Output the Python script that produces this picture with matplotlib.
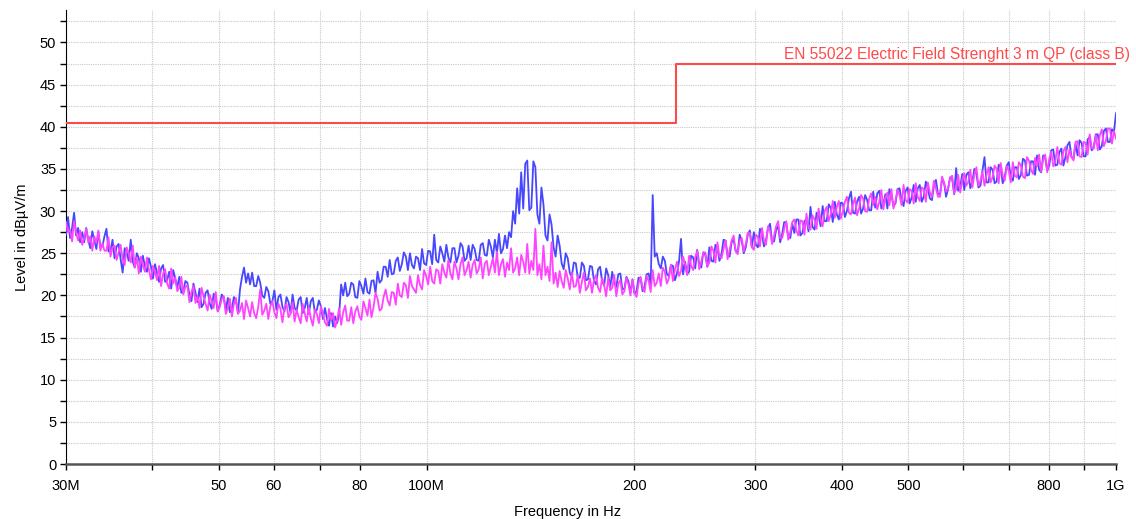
import numpy as np
import matplotlib
matplotlib.use("Agg")
import matplotlib.pyplot as plt
from matplotlib.ticker import FixedLocator, FixedFormatter, NullFormatter

# ---- data ----
f_start, f_stop = 30e6, 1e9  # sweep range, Hz

level_blue = [
    27.2, 29.3, 26.8, 28.0, 29.8, 27.1, 28.0, 26.3, 27.5, 26.3, 28.0, 26.6, 25.6, 27.6, 26.6, 25.5, 27.5, 25.7, 25.8, 27.0,
    27.9, 25.2, 25.3, 26.6, 24.4, 25.8, 26.1, 24.3, 22.7, 25.6, 25.1, 24.1, 26.6, 24.0, 23.3, 25.0, 24.4, 22.8, 24.7, 23.4,
    22.8, 24.4, 23.4, 22.0, 23.7, 22.6, 21.6, 23.2, 23.6, 21.6, 21.8, 22.8, 20.8, 23.0, 22.0, 20.9, 22.2, 20.3, 20.5, 21.7,
    21.5, 20.1, 19.3, 21.4, 20.3, 19.2, 20.8, 18.6, 19.0, 20.3, 20.6, 19.1, 18.4, 20.2, 19.7, 18.1, 18.9, 20.1, 19.7, 18.2,
    19.7, 18.0, 18.5, 19.8, 19.3, 17.9, 20.7, 22.2, 23.3, 21.5, 22.6, 21.3, 22.7, 21.1, 21.1, 22.3, 21.5, 20.0, 19.7, 21.0,
    20.5, 19.0, 19.3, 20.6, 18.3, 19.8, 20.1, 18.6, 18.1, 19.8, 19.2, 17.9, 20.1, 18.5, 18.2, 19.5, 19.8, 17.9, 18.5, 19.7,
    17.8, 19.3, 19.7, 18.0, 18.3, 19.4, 18.7, 17.2, 18.5, 17.2, 16.4, 17.9, 16.3, 17.5, 16.7, 17.7, 21.3, 20.0, 21.5, 19.9,
    20.2, 21.5, 21.3, 19.8, 19.7, 21.7, 21.1, 20.2, 22.0, 20.4, 20.2, 21.7, 21.8, 20.3, 22.8, 21.5, 21.8, 23.4, 23.4, 22.2,
    24.2, 22.5, 22.6, 24.1, 24.5, 22.9, 23.7, 25.1, 24.6, 23.0, 25.0, 23.6, 23.2, 24.6, 24.4, 23.0, 25.5, 23.8, 23.6, 25.3,
    25.2, 23.7, 27.2, 24.2, 23.9, 25.8, 25.0, 24.0, 26.0, 24.5, 23.9, 25.6, 25.6, 23.9, 24.7, 26.2, 25.8, 24.1, 24.4, 25.9,
    24.2, 26.0, 25.5, 24.2, 24.1, 26.0, 26.2, 24.8, 24.7, 26.6, 25.8, 24.5, 26.6, 25.0, 27.3, 25.0, 25.5, 27.1, 25.6, 27.5,
    26.9, 30.0, 28.5, 32.7, 29.7, 34.6, 30.3, 35.6, 36.0, 30.1, 30.4, 35.9, 35.2, 29.6, 28.5, 32.8, 30.8, 27.1, 26.5, 29.6,
    28.4, 25.7, 24.6, 27.1, 25.9, 23.8, 23.1, 25.0, 24.4, 22.7, 22.2, 23.9, 23.8, 22.0, 22.1, 23.9, 23.5, 21.8, 21.9, 23.5,
    23.4, 21.7, 21.3, 23.1, 23.4, 21.6, 21.2, 23.2, 22.4, 21.0, 22.8, 21.4, 21.0, 22.5, 22.6, 20.7, 20.8, 22.2, 21.7, 20.3,
    21.9, 20.2, 20.5, 22.1, 22.0, 20.5, 21.1, 22.5, 22.6, 21.3, 31.9, 24.6, 25.0, 23.7, 23.2, 24.6, 24.1, 22.5, 22.3, 23.6,
    23.5, 21.8, 22.6, 24.0, 26.7, 22.5, 24.0, 22.5, 22.8, 24.7, 24.5, 23.2, 25.4, 23.7, 23.3, 25.1, 24.8, 23.4, 25.7, 24.1,
    24.0, 26.0, 25.6, 24.1, 24.9, 26.6, 26.5, 24.8, 24.6, 26.3, 26.6, 25.3, 25.1, 27.2, 26.5, 25.0, 25.7, 27.2, 27.7, 25.7,
    27.5, 26.0, 25.7, 27.9, 27.3, 25.8, 26.5, 28.0, 28.5, 26.4, 26.4, 27.8, 28.2, 26.3, 27.3, 28.7, 28.6, 26.9, 26.8, 28.5,
    27.4, 29.0, 29.0, 27.1, 27.4, 28.8, 29.1, 27.6, 30.5, 28.1, 27.8, 29.8, 29.5, 28.2, 30.6, 28.8, 28.8, 30.8, 30.4, 28.7,
    31.1, 29.6, 29.0, 31.0, 30.9, 29.3, 30.0, 31.5, 32.3, 29.8, 29.7, 31.1, 31.7, 29.7, 30.3, 31.9, 31.3, 30.1, 30.1, 32.3,
    30.4, 32.1, 32.4, 30.3, 30.8, 32.0, 30.3, 32.6, 31.9, 30.6, 30.9, 32.6, 32.7, 31.3, 30.6, 32.4, 32.8, 30.9, 31.6, 33.1,
    31.1, 32.7, 33.1, 31.1, 31.7, 33.5, 32.7, 31.5, 31.3, 33.0, 33.7, 32.0, 32.0, 33.7, 33.4, 31.7, 32.6, 34.0, 33.9, 32.0,
    35.1, 32.4, 32.9, 34.4, 32.5, 34.3, 34.6, 32.7, 33.5, 35.0, 34.4, 32.8, 33.0, 34.8, 36.4, 33.4, 33.4, 35.2, 34.9, 33.3,
    33.5, 35.5, 35.2, 33.3, 34.1, 35.4, 35.8, 34.0, 33.6, 35.2, 35.2, 33.8, 34.3, 36.2, 36.0, 34.2, 34.3, 35.9, 35.9, 34.3,
    36.6, 34.9, 34.6, 36.6, 36.3, 34.8, 35.4, 37.2, 37.3, 35.4, 35.5, 37.0, 37.4, 35.4, 36.4, 37.8, 38.2, 36.4, 36.2, 38.0,
    36.6, 38.4, 38.1, 36.5, 36.5, 38.5, 38.8, 37.2, 37.6, 39.1, 39.1, 37.3, 37.7, 39.5, 39.8, 38.2, 38.2, 39.7, 39.4, 41.6,
]

level_magenta = [
    28.7, 27.5, 27.8, 26.4, 28.8, 27.5, 26.5, 27.7, 26.0, 26.8, 27.9, 26.3, 27.0, 25.3, 27.0, 26.2, 27.7, 25.3, 26.2, 25.3,
    25.3, 26.9, 24.6, 25.7, 25.9, 24.2, 25.1, 26.0, 24.3, 23.6, 25.7, 25.0, 23.9, 25.9, 23.3, 24.5, 22.6, 24.6, 23.6, 22.8,
    24.5, 23.0, 21.9, 23.5, 22.8, 21.8, 23.5, 21.1, 22.6, 23.1, 21.4, 20.8, 23.2, 21.4, 22.1, 20.5, 20.9, 22.2, 20.1, 21.0,
    21.2, 19.2, 20.4, 21.1, 19.1, 19.9, 18.5, 20.9, 19.9, 19.0, 18.2, 20.1, 19.3, 18.5, 20.4, 18.1, 18.6, 19.6, 19.9, 17.8,
    18.5, 19.6, 17.5, 19.0, 19.7, 17.8, 18.2, 19.1, 17.2, 19.4, 18.5, 17.5, 19.2, 17.9, 17.3, 18.6, 20.7, 17.7, 18.2, 19.0,
    17.2, 18.7, 19.3, 18.0, 17.3, 19.0, 18.4, 16.8, 18.6, 19.0, 17.4, 17.8, 19.2, 16.9, 18.3, 17.4, 16.7, 19.0, 17.9, 16.9,
    18.6, 17.3, 16.4, 18.3, 17.8, 16.7, 18.7, 17.8, 16.8, 16.4, 18.4, 17.1, 17.9, 16.2, 17.0, 18.5, 16.5, 18.0, 18.8, 17.0,
    17.0, 18.6, 16.7, 18.1, 18.7, 17.5, 17.1, 19.3, 18.5, 17.6, 19.5, 17.4, 18.6, 20.3, 19.6, 18.2, 18.4, 19.8, 20.7, 19.4,
    18.8, 20.4, 20.3, 18.9, 21.4, 20.0, 19.8, 21.5, 21.2, 19.7, 22.3, 21.1, 20.7, 20.3, 22.4, 21.2, 20.7, 23.0, 22.3, 21.3,
    23.4, 21.7, 21.4, 23.1, 22.9, 21.4, 23.7, 22.7, 22.1, 24.2, 22.6, 21.9, 24.0, 23.2, 21.9, 23.7, 24.5, 22.4, 23.0, 24.0,
    22.1, 23.6, 24.2, 22.6, 23.1, 24.5, 22.0, 23.8, 24.1, 22.4, 23.4, 24.4, 22.7, 25.2, 22.4, 23.7, 24.3, 22.2, 23.9, 23.0,
    25.6, 22.7, 23.2, 24.5, 22.4, 24.8, 24.0, 22.7, 26.1, 22.6, 24.1, 23.0, 27.9, 22.4, 23.7, 21.9, 25.9, 22.4, 23.4, 21.7,
    26.3, 21.4, 22.7, 21.0, 22.9, 21.7, 20.9, 23.0, 22.0, 20.7, 22.7, 21.0, 21.1, 22.4, 20.3, 21.6, 22.7, 20.6, 21.0, 22.0,
    20.3, 21.8, 22.4, 20.9, 20.4, 22.1, 21.2, 19.9, 22.1, 20.6, 20.9, 22.4, 19.9, 21.4, 21.8, 20.1, 20.5, 22.1, 21.3, 20.0,
    21.9, 20.3, 19.8, 21.4, 22.2, 20.9, 20.4, 22.3, 21.7, 20.4, 23.0, 21.1, 21.5, 22.6, 21.1, 23.3, 22.8, 21.4, 22.0, 23.6,
    21.7, 23.1, 24.0, 22.3, 22.9, 24.6, 23.7, 22.4, 24.7, 23.5, 23.0, 24.5, 25.3, 23.1, 24.0, 25.1, 25.1, 23.4, 23.9, 25.8,
    25.3, 23.9, 26.3, 24.6, 24.4, 25.5, 26.5, 24.3, 25.4, 26.5, 27.1, 25.2, 24.9, 26.5, 26.8, 25.2, 26.1, 27.4, 27.4, 25.7,
    25.4, 27.2, 26.9, 25.8, 28.0, 26.5, 26.0, 28.2, 27.7, 26.1, 27.1, 28.2, 28.8, 26.8, 26.8, 27.9, 28.8, 26.6, 27.5, 28.7,
    29.0, 27.7, 27.1, 28.9, 28.8, 27.2, 29.7, 28.0, 27.8, 29.5, 29.0, 27.9, 30.3, 29.0, 28.2, 30.0, 30.5, 28.8, 29.6, 31.2,
    29.2, 30.5, 31.2, 29.1, 30.0, 31.1, 31.7, 29.8, 29.6, 30.8, 31.6, 29.5, 30.3, 31.9, 31.5, 30.0, 29.9, 31.5, 32.1, 30.7,
    31.7, 30.2, 31.1, 32.5, 30.2, 31.6, 32.2, 30.7, 32.6, 30.3, 31.2, 32.5, 31.9, 30.7, 33.1, 31.3, 31.0, 32.6, 32.4, 30.9,
    33.3, 31.7, 31.2, 32.8, 32.6, 31.1, 33.4, 32.2, 31.7, 33.6, 32.7, 31.7, 31.7, 34.1, 33.4, 32.3, 32.7, 33.9, 34.2, 32.1,
    32.6, 34.3, 32.2, 33.7, 34.5, 33.0, 33.5, 34.9, 32.8, 34.3, 35.2, 33.0, 33.6, 34.7, 33.0, 34.3, 35.2, 33.4, 34.0, 35.4,
    35.0, 33.3, 35.7, 34.2, 33.6, 35.3, 34.8, 33.4, 35.8, 34.2, 34.0, 35.8, 35.4, 34.1, 33.9, 36.4, 36.0, 34.9, 34.4, 36.3,
    35.3, 36.7, 34.7, 36.1, 36.7, 34.6, 36.2, 37.0, 35.3, 35.9, 37.6, 35.7, 35.5, 37.1, 37.6, 35.8, 37.3, 36.4, 36.0, 38.2,
    38.3, 36.5, 36.4, 38.2, 38.1, 36.7, 39.1, 37.5, 37.4, 39.0, 37.2, 39.0, 39.7, 37.7, 38.3, 39.8, 39.8, 38.0, 39.5, 38.6,
]

limit_freq = [30e6, 230e6, 230e6, 1e9]
limit_level = [40.5, 40.5, 47.5, 47.5]
limit_label = "EN 55022 Electric Field Strenght 3 m QP (class B)"

x_tick_values = [30e6, 50e6, 60e6, 80e6, 100e6, 200e6, 300e6, 400e6, 500e6, 800e6, 1e9]
x_tick_labels = ["30M", "50", "60", "80", "100M", "200", "300", "400", "500", "800", "1G"]
x_minor_values = [40e6, 70e6, 600e6, 700e6, 900e6]
y_tick_values = [0, 5, 10, 15, 20, 25, 30, 35, 40, 45, 50]
y_minor_values = [2.5, 7.5, 12.5, 17.5, 22.5, 27.5, 32.5, 37.5, 42.5, 47.5, 52.5]

# ---- figure ----
plt.rcParams['font.family'] = ['Liberation Sans', 'DejaVu Sans']
W, H = 1136, 519
fig = plt.figure(figsize=(W / 100, H / 100), dpi=100)
ax = fig.add_axes([66 / W, 55 / H, 1050 / W, 454 / H])

freq_blue = np.geomspace(f_start, f_stop, len(level_blue))
freq_magenta = np.geomspace(f_start, f_stop, len(level_magenta))

ax.plot(freq_blue, level_blue, color='#4747ff', lw=1.3, zorder=3)
ax.plot(freq_magenta, level_magenta, color='#ff44ff', lw=1.3, zorder=4)
ax.plot(limit_freq, limit_level, color='#ff4a4a', lw=1.5, zorder=5)

ax.set_xscale('log')
ax.set_xlim(f_start, f_stop)
ax.set_ylim(0, 53.85)

ax.xaxis.set_major_locator(FixedLocator(x_tick_values))
ax.xaxis.set_major_formatter(FixedFormatter(x_tick_labels))
ax.xaxis.set_minor_locator(FixedLocator(x_minor_values))
ax.xaxis.set_minor_formatter(NullFormatter())
ax.yaxis.set_major_locator(FixedLocator(y_tick_values))
ax.yaxis.set_minor_locator(FixedLocator(y_minor_values))

ax.tick_params(axis='both', which='both', direction='out', length=4, width=1,
               labelsize=10.5, colors='black')
ax.tick_params(axis='x', which='both', pad=7)
ax.tick_params(axis='y', which='both', pad=3)

ax.grid(True, which='both', axis='both', color='#c8c8c8', linestyle=(0, (1, 1)), lw=0.8, zorder=0)

for s in ['top', 'right']:
    ax.spines[s].set_visible(False)
ax.spines['left'].set_color('black')
ax.spines['bottom'].set_color('#555555')
ax.spines['bottom'].set_linewidth(1.8)

ax.set_ylabel('Level in dBµV/m', fontsize=10.5, labelpad=8)
fig.text(568 / W, (H - 505) / H, 'Frequency in Hz', ha='center', va='top', fontsize=10.5)

ax.text(1130 / W, (H - 54) / H, limit_label, transform=fig.transFigure,
        ha='right', va='center', color='#ff4a4a', fontsize=11.2)

fig.savefig('out.png', dpi=100)
